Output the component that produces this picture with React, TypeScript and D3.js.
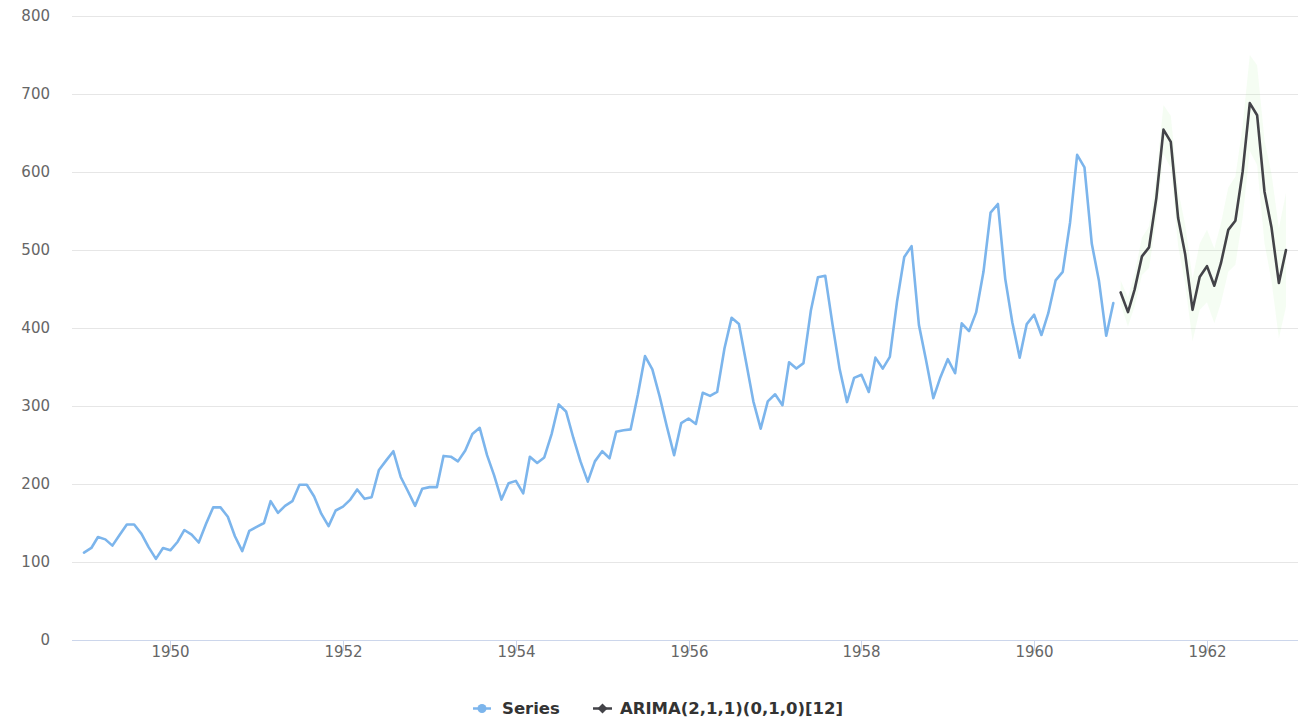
import React from "react";
import * as d3 from "d3";

const startYear = 1949;
const seriesValues: number[] = [
  112, 118, 132, 129, 121, 135, 148, 148, 136, 119, 104, 118,
  115, 126, 141, 135, 125, 149, 170, 170, 158, 133, 114, 140,
  145, 150, 178, 163, 172, 178, 199, 199, 184, 162, 146, 166,
  171, 180, 193, 181, 183, 218, 230, 242, 209, 191, 172, 194,
  196, 196, 236, 235, 229, 243, 264, 272, 237, 211, 180, 201,
  204, 188, 235, 227, 234, 264, 302, 293, 259, 229, 203, 229,
  242, 233, 267, 269, 270, 315, 364, 347, 312, 274, 237, 278,
  284, 277, 317, 313, 318, 374, 413, 405, 355, 306, 271, 306,
  315, 301, 356, 348, 355, 422, 465, 467, 404, 347, 305, 336,
  340, 318, 362, 348, 363, 435, 491, 505, 404, 359, 310, 337,
  360, 342, 406, 396, 420, 472, 548, 559, 463, 407, 362, 405,
  417, 391, 419, 461, 472, 535, 622, 606, 508, 461, 390, 432,
];

const forecastStartYear = 1961;
const forecastValues: number[] = [
  445.6, 420.4, 449.2, 491.8, 503.4, 566.9, 654.3, 638.6, 540.9, 494.1, 423.3, 465.5,
  479.3, 454.2, 483.1, 525.8, 537.5, 601.0, 688.4, 672.8, 575.1, 528.4, 457.7, 499.9,
];
const forecastLower: number[] = [
  430, 402, 428, 468, 477, 538, 623, 605, 505, 456, 383, 423,
  433, 406, 432, 472, 481, 542, 627, 609, 509, 460, 387, 427,
];
const forecastUpper: number[] = [
  461, 439, 470, 516, 530, 596, 686, 672, 577, 532, 463, 508,
  526, 502, 534, 580, 594, 660, 750, 737, 641, 597, 528, 573,
];

const yTicks: number[] = [0, 100, 200, 300, 400, 500, 600, 700, 800];
const xTickYears: number[] = [1950, 1952, 1954, 1956, 1958, 1960, 1962];
const legendLabels: string[] = ["Series", "ARIMA(2,1,1)(0,1,0)[12]"];

const W = 1309;
const H = 719;
const FONT = "'DejaVu Sans', Verdana, sans-serif";

const monthDate = (y0: number, i: number) => new Date(y0 + Math.floor(i / 12), i % 12, 1);

export default function App() {
  const seriesPts = seriesValues.map((v, i) => ({ d: monthDate(startYear, i), v }));
  const fcPts = forecastValues.map((v, i) => ({
    d: monthDate(forecastStartYear, i),
    v,
    lo: forecastLower[i],
    hi: forecastUpper[i],
  }));

  const firstDate = seriesPts[0].d;
  const lastDate = fcPts[fcPts.length - 1].d;
  const span = lastDate.getTime() - firstDate.getTime();
  const pad = span * 0.01;

  const x = d3
    .scaleTime()
    .domain([new Date(firstDate.getTime() - pad), new Date(lastDate.getTime() + pad)])
    .range([72, 1298]);
  const y = d3.scaleLinear().domain([0, 800]).range([640, 16]);

  const line = d3
    .line<{ d: Date; v: number }>()
    .x((p) => x(p.d))
    .y((p) => y(p.v));
  const area = d3
    .area<{ d: Date; lo: number; hi: number }>()
    .x((p) => x(p.d))
    .y0((p) => y(p.lo))
    .y1((p) => y(p.hi));

  const [x0, x1] = x.range();

  return (
    <div style={{ position: "fixed", left: 0, top: 0, width: W, height: H, background: "#fff" }}>
      <svg width={W} height={H} style={{ display: "block" }} fontFamily={FONT}>
        <rect x={0} y={0} width={W} height={H} fill="#ffffff" />
        {yTicks.map((t) => (
          <g key={t}>
            {t > 0 && (
              <line x1={x0} x2={x1} y1={y(t) + 0.5} y2={y(t) + 0.5} stroke="#e6e6e6" strokeWidth={1} />
            )}
            <text x={50} y={y(t) + 5} textAnchor="end" fontSize={15} fill="#666666">
              {t}
            </text>
          </g>
        ))}
        <line x1={x0} x2={x1} y1={y(0) + 0.5} y2={y(0) + 0.5} stroke="#ccd6eb" strokeWidth={1} />
        {xTickYears.map((yr) => {
          const px = Math.round(x(new Date(yr, 0, 1))) + 0.5;
          return (
            <g key={yr}>
              <line x1={px} x2={px} y1={y(0)} y2={y(0) + 11} stroke="#ccd6eb" strokeWidth={1} />
              <text x={px} y={y(0) + 17} textAnchor="middle" fontSize={15} fill="#666666">
                {yr}
              </text>
            </g>
          );
        })}

        <path d={area(fcPts) || ""} fill="rgba(140, 230, 120, 0.09)" stroke="none" />
        <path
          d={line(seriesPts) || ""}
          fill="none"
          stroke="#7cb5ec"
          strokeWidth={2.6}
          strokeLinejoin="round"
          strokeLinecap="round"
        />
        <path
          d={line(fcPts) || ""}
          fill="none"
          stroke="#434348"
          strokeWidth={2.6}
          strokeLinejoin="round"
          strokeLinecap="round"
        />

        <g>
          <line x1={473} x2={491} y1={708.5} y2={708.5} stroke="#7cb5ec" strokeWidth={2.5} />
          <circle cx={482} cy={708.5} r={4.5} fill="#7cb5ec" />
          <text x={502} y={714} fontSize={16.5} fontWeight="bold" fill="#333333">
            {legendLabels[0]}
          </text>
          <line x1={593} x2={612} y1={708.5} y2={708.5} stroke="#434348" strokeWidth={2.5} />
          <path d="M602.5,703.5 L607.5,708.5 L602.5,713.5 L597.5,708.5 Z" fill="#434348" />
          <text x={620} y={714} fontSize={16.5} fontWeight="bold" fill="#333333">
            {legendLabels[1]}
          </text>
        </g>
      </svg>
    </div>
  );
}
